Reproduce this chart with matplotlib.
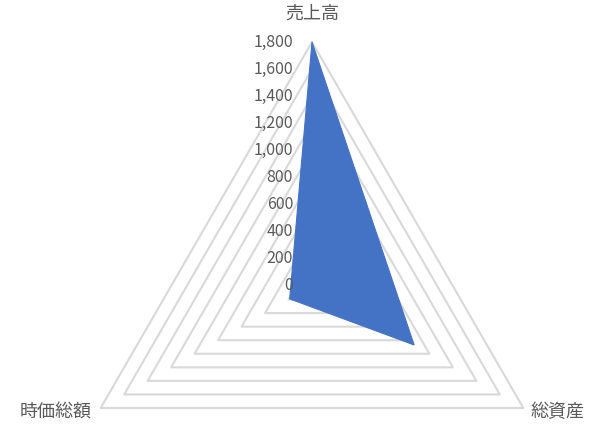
import numpy as np
import matplotlib
matplotlib.use("Agg")
import matplotlib.pyplot as plt

plt.rcParams['font.family'] = ['Noto Sans CJK JP', 'DejaVu Sans']

# categories clockwise from the top
categories = ['売上高', '総資産', '時価総額']
values = [1800, 870, 190]
# radial scale
r_ticks = [0, 200, 400, 600, 800, 1000, 1200, 1400, 1600, 1800]
r_max = 1800

text_color = '#595959'
grid_color = '#D9D9D9'
fill_color = '#4472C4'

fig = plt.figure(figsize=(6.03, 4.29), dpi=100, facecolor='w')
# polar axes centred at (312, 286) px with radius 244 px
W, H = 603, 429
cx, cy, R = 312, 286, 244
ax = fig.add_axes([(cx - R) / W, (H - cy - R) / H, 2 * R / W, 2 * R / H],
                  projection='polar')
ax.set_theta_offset(np.pi / 2)
ax.set_theta_direction(-1)
ax.set_ylim(0, r_max)
ax.set_xticks([])
ax.set_yticks([])
ax.grid(False)
ax.spines['polar'].set_visible(False)
ax.patch.set_visible(False)

theta = np.linspace(0, 2 * np.pi, len(categories), endpoint=False)
theta_closed = np.append(theta, theta[0])

# triangular grid
for r in r_ticks[1:]:
    ax.plot(theta_closed, [r] * len(theta_closed), color=grid_color,
            lw=1.5, zorder=1, clip_on=False)

# data polygon
vals_closed = np.append(values, values[0])
ax.fill(theta_closed, vals_closed, color=fill_color, lw=0.8,
        edgecolor=fill_color, zorder=2)

# radial tick labels
for r in r_ticks:
    ax.annotate(f'{r:,}', xy=(0, r), xytext=(-19, 0), textcoords='offset pixels',
                ha='right', va='center', fontsize=11.5, color=text_color,
                zorder=3, annotation_clip=False)

# category labels
label_offsets = [((0, 28), 'center', 'center'),
                 ((7, -4), 'left', 'center'),
                 ((-9, -4), 'right', 'center')]
for t, name, (off, ha, va) in zip(theta, categories, label_offsets):
    ax.annotate(name, xy=(t, r_max), xytext=off, textcoords='offset pixels',
                ha=ha, va=va, fontsize=13, color=text_color,
                annotation_clip=False)

fig.savefig('out.png', dpi=100)
